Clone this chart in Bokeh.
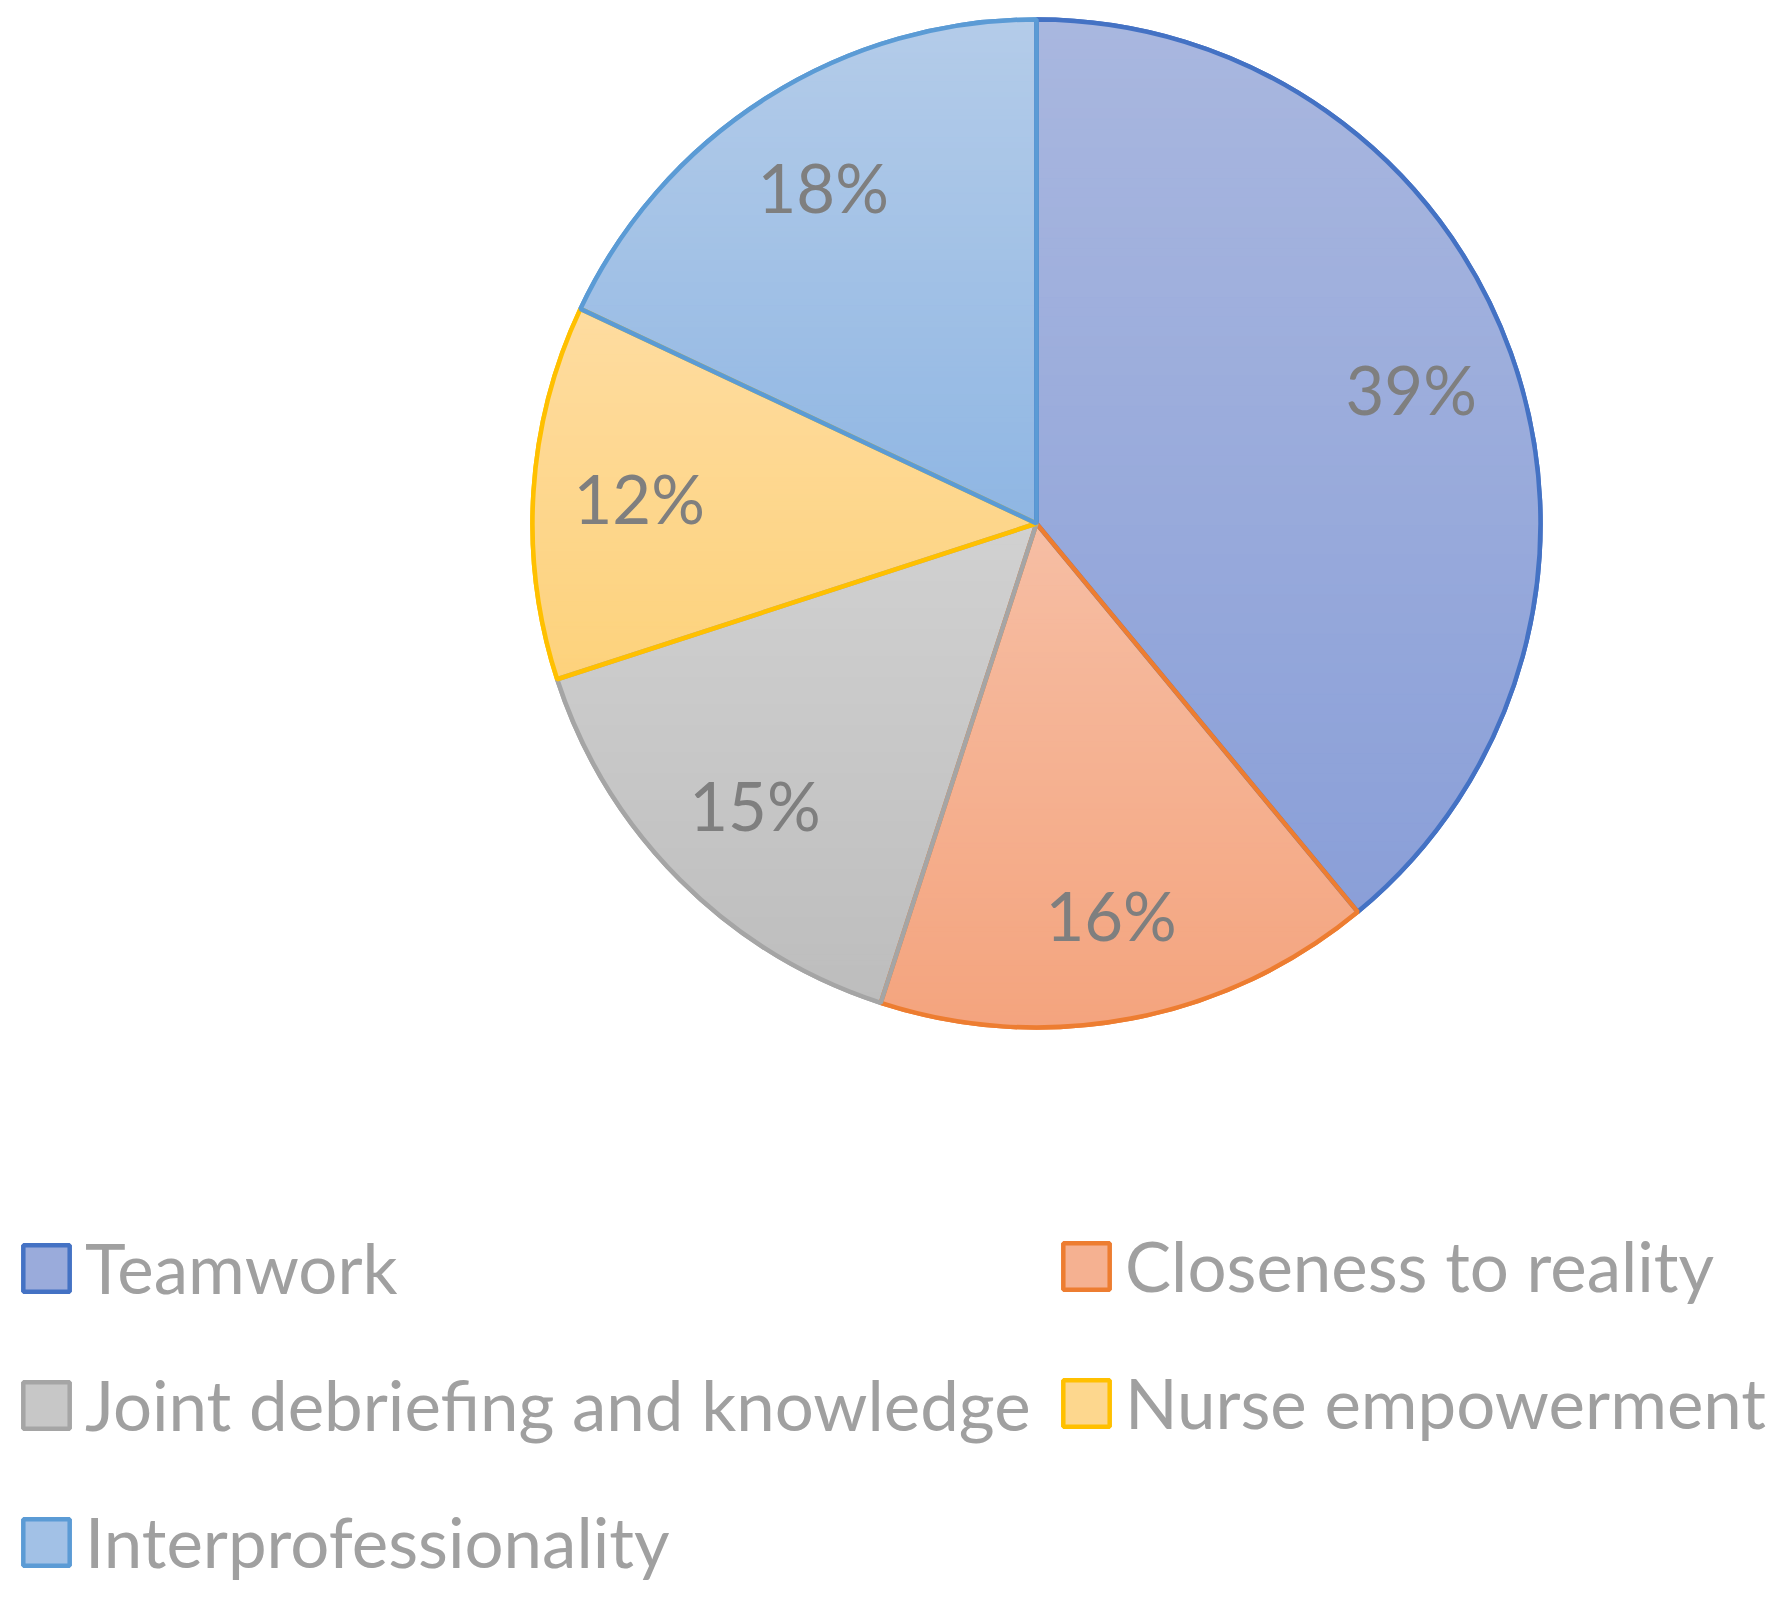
import numpy as np
from bokeh.plotting import figure
from bokeh.models import Range1d, Legend, LegendItem, ColumnDataSource
from bokeh.embed import file_html
from bokeh.resources import INLINE
from bokeh.core.properties import value

# ---------------- data ----------------
categories = ["Teamwork", "Closeness to reality", "Joint debriefing and knowledge",
              "Nurse empowerment", "Interprofessionality"]
values = [39, 16, 15, 12, 18]
line_colors = ["#4472C4", "#ED7D31", "#A5A5A5", "#FFC000", "#5B9BD5"]
fill_top = ["#A9B7DF", "#F6BEA4", "#D1D1D1", "#FEDCA0", "#B4CCE9"]
fill_bottom = ["#8A9FD8", "#F4A47E", "#BDBDBD", "#FDD27C", "#8FB6E3"]
fill_mid = ["#9AABDB", "#F5B191", "#C7C7C7", "#FDD78E", "#A2C1E6"]

# ---------------- layout ----------------
W, H = 1771, 1584
CX, CY, R = 1036, 1061, 504
LABEL_R = 0.79
FONT = "Lato"
FS = "67px"
LEG_FS = "69px"

frac = np.array(values, dtype=float) / sum(values)
cum = np.concatenate([[0.0], np.cumsum(frac)])
start = np.pi / 2 - 2 * np.pi * cum[1:]
end = np.pi / 2 - 2 * np.pi * cum[:-1]
mid = (start + end) / 2

p = figure(width=W, height=H, x_range=Range1d(0, W), y_range=Range1d(0, H),
           output_backend="svg", toolbar_location=None, min_border=0,
           x_axis_type=None, y_axis_type=None, outline_line_color=None)
p.grid.visible = False
p.background_fill_color = "white"
p.border_fill_color = "white"

src = ColumnDataSource(dict(start=start, end=end, fill=fill_mid, line=line_colors,
                            cat=categories))
# base wedges (used for legend swatches)
base = p.wedge(x=CX, y=CY, radius=R, start_angle="start", end_angle="end",
               direction="anticlock", fill_color="fill", line_color="line",
               line_width=4.5, source=src)


def hex2rgb(h):
    h = h.lstrip("#")
    return np.array([int(h[i:i + 2], 16) for i in (0, 2, 4)], dtype=float)


def rgb2hex(c):
    c = np.clip(np.round(c), 0, 255).astype(int)
    return "#%02x%02x%02x" % tuple(c)


def clip(poly, y0, keep_above):
    out = []
    n = len(poly)
    for i in range(n):
        P = poly[i]
        Q = poly[(i + 1) % n]
        pin = P[1] >= y0 if keep_above else P[1] <= y0
        qin = Q[1] >= y0 if keep_above else Q[1] <= y0
        if pin:
            out.append(P)
        if pin != qin:
            t = (y0 - P[1]) / (Q[1] - P[1])
            out.append((P[0] + t * (Q[0] - P[0]), y0))
    return out


# gradient fills, built from each slice's sector
gx, gy, gc = [], [], []
NSTRIP = 90
for i in range(len(values)):
    n_arc = max(12, int(frac[i] * 720))
    angs = np.linspace(start[i], end[i], n_arc)
    poly = [(CX, CY)] + [(CX + R * np.cos(a), CY + R * np.sin(a)) for a in angs]
    ys = [q[1] for q in poly]
    ymin, ymax = min(ys), max(ys)
    c_top, c_bot = hex2rgb(fill_top[i]), hex2rgb(fill_bottom[i])
    edges = np.linspace(ymax, ymin, NSTRIP + 1)
    for k in range(NSTRIP):
        hi, lo = edges[k], edges[k + 1]
        part = clip(clip(poly, lo, True), hi, False)
        if len(part) < 3:
            continue
        t = (ymax - (hi + lo) / 2) / (ymax - ymin)
        gx.append([q[0] for q in part])
        gy.append([q[1] for q in part])
        gc.append(rgb2hex(c_top * (1 - t) + c_bot * t))

p.patches(xs=gx, ys=gy, fill_color=gc, line_color=gc, line_width=1.2)

# outlines on top
p.wedge(x=CX, y=CY, radius=R, start_angle="start", end_angle="end",
        direction="anticlock", fill_alpha=0, line_color="line",
        line_width=4.5, source=src)

# data labels
lx = CX + LABEL_R * R * np.cos(mid)
ly = CY + LABEL_R * R * np.sin(mid)
p.text(x=lx, y=ly, text=[f"{v}%" for v in values], text_font=value(FONT),
       text_font_size=FS, text_color="#7F7F7F", text_align="center",
       text_baseline="middle")

# legends (two columns)
common = dict(glyph_width=58, glyph_height=58, label_standoff=10, padding=0,
              margin=0, spacing=54, border_line_alpha=0, background_fill_alpha=0,
              label_text_font=FONT, label_text_font_size=LEG_FS,
              label_text_color="#A0A0A0")
leg1 = Legend(items=[LegendItem(label=categories[i], renderers=[base], index=i)
                     for i in (0, 2, 4)], location=(17, 1), **common)
leg2 = Legend(items=[LegendItem(label=categories[i], renderers=[base], index=i)
                     for i in (1, 3)], location=(1057, 140), **common)
p.add_layout(leg1)
p.add_layout(leg2)

open("out.html", "w").write(file_html(p, INLINE))
